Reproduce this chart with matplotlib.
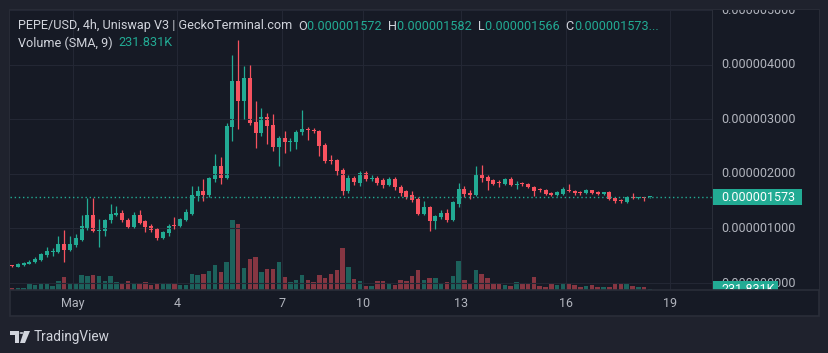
import matplotlib
matplotlib.use("Agg")
import matplotlib.pyplot as plt
import numpy as np
from matplotlib.patches import Rectangle, Polygon, Circle

plt.rcParams['font.family'] = ['Roboto', 'DejaVu Sans']

# 4h candles, prices in units of 1e-6 USD
opens = [0.315, 0.30, 0.33, 0.35, 0.38, 0.43, 0.51, 0.56, 0.57, 0.72,
         0.61, 0.69, 0.79, 1.00, 1.24, 0.95, 0.96, 1.15, 1.24, 1.28,
         1.16, 1.02, 1.25, 1.13, 1.04, 0.99, 0.82, 0.92, 1.05, 1.04,
         1.16, 1.27, 1.60, 1.68, 1.62, 1.91, 2.15, 1.93, 2.85, 3.70,
         3.33, 3.76, 2.95, 2.75, 3.04, 2.89, 2.49, 2.65, 2.58, 2.59,
         2.76, 2.83, 2.80, 2.78, 2.53, 2.26, 2.25, 2.07, 1.68, 1.93,
         1.84, 2.02, 1.91, 1.93, 1.89, 1.80, 1.91, 1.76, 1.68, 1.61,
         1.54, 1.27, 1.39, 1.13, 1.21, 1.28, 1.15, 1.45, 1.72, 1.63,
         1.62, 1.98, 1.94, 1.88, 1.84, 1.82, 1.91, 1.80, 1.82, 1.81,
         1.76, 1.71, 1.71, 1.65, 1.61, 1.63, 1.70, 1.69, 1.66, 1.64,
         1.70, 1.66, 1.63, 1.66, 1.55, 1.51, 1.48, 1.57, 1.55, 1.57,
         1.572]
highs = [0.325, 0.36, 0.39, 0.43, 0.48, 0.55, 0.66, 0.64, 0.87, 0.98,
         0.86, 0.90, 1.24, 1.56, 1.56, 1.18, 1.18, 1.45, 1.42, 1.33,
         1.20, 1.30, 1.34, 1.15, 1.09, 1.01, 0.95, 1.09, 1.21, 1.20,
         1.36, 1.78, 1.78, 1.90, 1.95, 2.36, 2.30, 2.93, 4.18, 4.45,
         3.98, 4.00, 3.33, 3.21, 3.11, 3.09, 2.70, 2.78, 2.65, 2.80,
         3.16, 2.86, 2.84, 2.80, 2.56, 2.35, 2.28, 2.10, 1.97, 1.96,
         2.06, 2.05, 1.98, 1.96, 1.93, 1.94, 1.95, 1.80, 1.71, 1.69,
         1.57, 1.50, 1.42, 1.25, 1.34, 1.35, 1.50, 1.84, 1.78, 1.70,
         2.15, 2.17, 1.97, 1.91, 1.88, 1.92, 1.95, 1.86, 1.85, 1.83,
         1.78, 1.74, 1.73, 1.67, 1.68, 1.75, 1.81, 1.71, 1.68, 1.72,
         1.71, 1.68, 1.67, 1.68, 1.56, 1.53, 1.60, 1.64, 1.58, 1.58,
         1.582]
lows = [0.30, 0.29, 0.32, 0.34, 0.36, 0.41, 0.47, 0.50, 0.55, 0.39,
        0.58, 0.66, 0.77, 0.98, 0.93, 0.66, 0.87, 1.10, 1.22, 1.12,
        1.00, 1.00, 1.08, 0.93, 0.94, 0.78, 0.80, 0.87, 0.99, 1.02,
        1.14, 1.25, 1.50, 1.50, 1.58, 1.85, 1.82, 1.90, 2.60, 2.82,
        3.00, 2.90, 2.48, 2.70, 2.55, 2.42, 2.15, 2.39, 2.42, 2.45,
        2.72, 2.62, 2.74, 2.33, 2.20, 2.18, 1.97, 1.61, 1.64, 1.80,
        1.78, 1.87, 1.86, 1.80, 1.74, 1.77, 1.70, 1.60, 1.54, 1.48,
        1.24, 1.24, 0.95, 0.99, 1.18, 1.12, 1.13, 1.40, 1.58, 1.53,
        1.60, 1.85, 1.70, 1.79, 1.76, 1.80, 1.77, 1.73, 1.78, 1.74,
        1.60, 1.67, 1.61, 1.60, 1.59, 1.61, 1.66, 1.62, 1.62, 1.63,
        1.63, 1.61, 1.61, 1.52, 1.47, 1.46, 1.46, 1.54, 1.53, 1.51,
        1.566]
closes = [0.31, 0.34, 0.37, 0.39, 0.44, 0.53, 0.58, 0.57, 0.72, 0.61,
          0.72, 0.82, 1.04, 1.24, 0.95, 0.97, 1.16, 1.26, 1.28, 1.15,
          1.02, 1.25, 1.10, 1.02, 0.98, 0.83, 0.93, 1.04, 1.04, 1.18,
          1.30, 1.62, 1.68, 1.62, 1.93, 2.15, 1.93, 2.87, 3.70, 3.33,
          3.76, 2.93, 2.75, 3.04, 2.87, 2.49, 2.65, 2.58, 2.61, 2.76,
          2.83, 2.80, 2.78, 2.51, 2.24, 2.24, 2.05, 1.69, 1.93, 1.85,
          2.02, 1.91, 1.93, 1.84, 1.80, 1.91, 1.75, 1.65, 1.57, 1.52,
          1.27, 1.39, 1.13, 1.22, 1.28, 1.15, 1.48, 1.72, 1.63, 1.62,
          1.98, 1.93, 1.87, 1.82, 1.83, 1.90, 1.79, 1.82, 1.81, 1.76,
          1.69, 1.70, 1.63, 1.61, 1.66, 1.72, 1.69, 1.64, 1.64, 1.70,
          1.64, 1.63, 1.66, 1.54, 1.50, 1.50, 1.57, 1.55, 1.57, 1.56,
          1.573]
# volume in thousands
volumes = [100, 100, 100, 350, 290, 350, 350, 230, 520, 740,
           350, 410, 870, 810, 870, 810, 520, 810, 460, 350,
           520, 390, 390, 460, 290, 350, 390, 390, 390, 290,
           290, 930, 870, 930, 1100, 1450, 1040, 1620, 4060, 3830,
           1280, 1800, 1910, 1040, 1220, 1220, 1620, 750, 460, 580,
           870, 580, 460, 870, 700, 930, 1160, 2440, 1330, 640,
           520, 230, 230, 520, 520, 350, 290, 580, 520, 810,
           1160, 580, 700, 700, 350, 460, 810, 1680, 580, 350,
           1160, 930, 700, 410, 410, 290, 230, 460, 350, 350,
           750, 230, 170, 410, 290, 350, 410, 290, 170, 230,
           290, 170, 170, 170, 350, 410, 350, 230, 170, 170,
           60]
vol_sma = 231.831  # SMA(9) shown in the legend, thousands

date_labels = ['May', '4', '7', '10', '13', '16', '19']
date_idx = [10.5, 28.5, 46.5, 60.5, 77.5, 95.5, 113.5]
price_ticks = [0, 1, 2, 3, 4, 5]

last_close = closes[-1]

W, H = 829, 353
BG = '#1f222d'
PANEL = '#161a25'
BORDER = '#2a2e39'
GRID = '#232734'
UP = '#22ab94'
DOWN = '#f7525f'
TXT = '#b2b5be'
TITLE = '#d1d4dc'


def fx(x):
    return x / W


def fy(y):
    return 1 - y / H


fig = plt.figure(figsize=(W / 100, H / 100), dpi=100, facecolor=BG)

# panel background and frame
fig.patches.append(Rectangle((fx(10), fy(316)), 809 / W, 306 / H, transform=fig.transFigure,
                             facecolor=PANEL, edgecolor=BORDER, linewidth=1.2, zorder=-5))

ax_v = fig.add_axes([fx(10), fy(290), 702 / W, 280 / H])
ax = fig.add_axes([fx(10), fy(290), 702 / W, 280 / H], sharex=ax_v)
ax.patch.set_visible(False)
ax_v.set_facecolor(PANEL)

n = len(closes)
x = np.arange(n)
o = np.array(opens)
c = np.array(closes)
up = c >= o
cols = np.where(up, UP, DOWN)

# volume
ax_v.bar(x, volumes, width=0.78, color=cols, alpha=0.5, linewidth=0)
ax_v.set_ylim(0, 280 * 58)
ax_v.set_yticks([])

# candles
ax.vlines(x, lows, highs, colors=cols, linewidth=0.9)
body_lo = np.minimum(o, c)
body_h = np.maximum(np.abs(c - o), 0.02)
ax.bar(x, body_h, bottom=body_lo, width=0.7, color=cols, linewidth=0)

ax.axhline(last_close, color=UP, linewidth=1, linestyle=(0, (1, 2)))

ax.set_xlim(-0.345, 120.7)
ax.set_ylim((283 - 290) / 55, (283 - 10) / 55)
ax.set_yticks(price_ticks)
ax.set_yticklabels([])
ax.set_xticks(date_idx)
ax.set_xticklabels(date_labels, color=TXT, fontsize=9)
ax.tick_params(axis='both', length=0, pad=5)
ax.tick_params(axis='y', pad=0)
ax.grid(True, color=GRID, linewidth=0.8)
for a in (ax, ax_v):
    for s in a.spines.values():
        s.set_visible(False)
ax_v.tick_params(axis='x', length=0, labelbottom=False)

# price scale
ax_p = fig.add_axes([fx(712), fy(290), 107 / W, 280 / H])
ax_p.set_facecolor(PANEL)
ax_p.set_xlim(0, 1)
ax_p.set_ylim(ax.get_ylim())
ax_p.set_xticks([])
ax_p.set_yticks([])
for s in ax_p.spines.values():
    s.set_visible(False)
ax_p.axvline(0, color=BORDER, linewidth=1.5)
for t in price_ticks:
    ax_p.text(0.09, t, f"{t * 1e-6:.9f}", color=TXT, fontsize=9, va='center', ha='left', clip_on=True)

bh = 8 / 55
ax_p.add_patch(Rectangle((0.005, last_close - bh), 0.84, 2 * bh, facecolor=UP, edgecolor='none', zorder=3))
ax_p.text(0.09, last_close, f"{last_close * 1e-6:.9f}", color='white', fontsize=9, va='center', ha='left', zorder=4)
# volume label sits on the bottom edge of the pane, half hidden by the time scale
vy = ax.get_ylim()[0] + 1 / 55
ax_p.add_patch(Rectangle((0.005, vy - bh), 0.61, 2 * bh, facecolor=UP, edgecolor='none', zorder=3, clip_on=True))
ax_p.text(0.09, vy, f"{vol_sma:.3f}K", color='white', fontsize=9, va='center', ha='left', zorder=4, clip_on=True)

# separator of time scale
fig.lines.append(plt.Line2D([fx(10), fx(819)], [fy(290), fy(290)], transform=fig.transFigure, color=BORDER, linewidth=1.2))

# legend lines
renderer = fig.canvas.get_renderer()


def put_run(parts, x0, y0, size):
    xx = x0
    for s, col in parts:
        t = fig.text(fx(xx), fy(y0), s, color=col, fontsize=size, va='center', ha='left')
        xx += t.get_window_extent(renderer).width
    return xx


put_run([("PEPE/USD, 4h, Uniswap V3 | GeckoTerminal.com  ", TITLE),
         ("O", TITLE), (f"{opens[-1] * 1e-6:.9f}  ", UP),
         ("H", TITLE), (f"{highs[-1] * 1e-6:.9f}  ", UP),
         ("L", TITLE), (f"{lows[-1] * 1e-6:.9f}  ", UP),
         ("C", TITLE), (f"{closes[-1] * 1e-6:.9f}...", UP)], 18, 26, 9.1)
put_run([("Volume (SMA, 9)  ", TITLE), (f"{vol_sma:.3f}K", UP)], 18, 43, 9.1)

# footer logo
lc = '#d1d4dc'
fig.patches.append(Polygon([(fx(10), fy(331)), (fx(19), fy(331)), (fx(19), fy(343)), (fx(15), fy(343)),
                            (fx(15), fy(335)), (fx(10), fy(335))], closed=True, transform=fig.transFigure,
                           facecolor=lc, edgecolor='none'))
fig.patches.append(Circle((fx(21.5), fy(333)), 2 / W, transform=fig.transFigure, facecolor=lc, edgecolor='none'))
fig.patches.append(Polygon([(fx(24), fy(331)), (fx(30), fy(331)), (fx(25), fy(343)), (fx(20), fy(343))],
                           closed=True, transform=fig.transFigure, facecolor=lc, edgecolor='none'))
fig.text(fx(34), fy(337), "TradingView", color=lc, fontsize=9.8, va='center', ha='left')

fig.savefig("out.png", dpi=100, facecolor=BG)
